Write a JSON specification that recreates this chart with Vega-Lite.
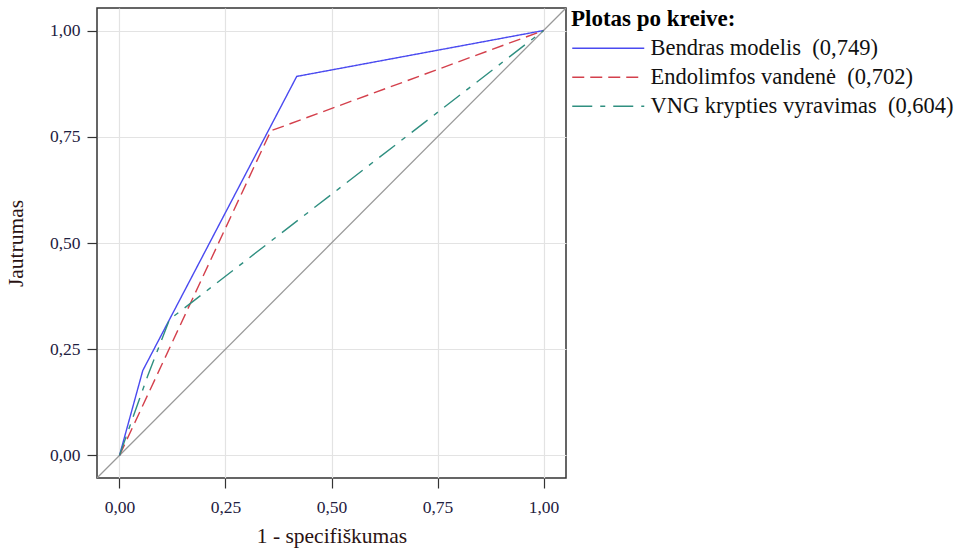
{
  "$schema": "https://vega.github.io/schema/vega-lite/v6.json",
  "width": 469,
  "height": 470,
  "autosize": {"type": "none"},
  "padding": {"left": 97, "top": 8, "right": 397, "bottom": 70},
  "config": {
    "font": "Liberation Serif",
    "view": {"stroke": "#333333", "strokeWidth": 1.5},
    "axis": {
      "grid": true,
      "gridColor": "#e3e3e3",
      "gridWidth": 1.2,
      "domain": false,
      "tickColor": "#333333",
      "tickSize": 10,
      "tickWidth": 1.2,
      "labelFontSize": 17.5,
      "labelColor": "#1e2040",
      "titleFontSize": 21.5,
      "titleFontWeight": "normal",
      "titleColor": "#2a1212"
    },
    "legend": {
      "orient": "right",
      "offset": 5,
      "titleFontSize": 23,
      "titleFontWeight": "bold",
      "titleColor": "#000000",
      "titlePadding": 6,
      "titleLimit": 0,
      "labelFontSize": 22.5,
      "labelColor": "#111111",
      "labelLimit": 0,
      "symbolType": "M-4,0H4",
      "symbolSize": 324,
      "symbolStrokeWidth": 1.4,
      "symbolOffset": 26,
      "rowPadding": 6,
      "labelOffset": 31
    }
  },
  "datasets": {
    "roc": [
      {"series": "Bendras modelis\u00a0 (0,749)", "i": 0, "x": 0, "y": 0},
      {"series": "Bendras modelis\u00a0 (0,749)", "i": 1, "x": 0.055, "y": 0.2},
      {"series": "Bendras modelis\u00a0 (0,749)", "i": 2, "x": 0.418, "y": 0.892},
      {"series": "Bendras modelis\u00a0 (0,749)", "i": 3, "x": 1, "y": 1},
      {"series": "Endolimfos vandenė\u00a0 (0,702)", "i": 0, "x": 0, "y": 0},
      {"series": "Endolimfos vandenė\u00a0 (0,702)", "i": 1, "x": 0.357, "y": 0.764},
      {"series": "Endolimfos vandenė\u00a0 (0,702)", "i": 2, "x": 1, "y": 1},
      {"series": "VNG krypties vyravimas\u00a0 (0,604)", "i": 0, "x": 0, "y": 0},
      {"series": "VNG krypties vyravimas\u00a0 (0,604)", "i": 1, "x": 0.066, "y": 0.186},
      {"series": "VNG krypties vyravimas\u00a0 (0,604)", "i": 2, "x": 0.118, "y": 0.32},
      {"series": "VNG krypties vyravimas\u00a0 (0,604)", "i": 3, "x": 1, "y": 1}
    ],
    "diag": [
      {"x": -0.1, "y": -0.1},
      {"x": 1.1, "y": 1.1}
    ]
  },
  "layer": [
    {
      "data": {"name": "diag"},
      "mark": {"type": "line", "color": "#999999", "strokeWidth": 1.3, "clip": true},
      "encoding": {
        "x": {"field": "x", "type": "quantitative", "scale": {"domain": [-0.053, 1.053], "nice": false, "zero": false},
          "axis": {"values": [0, 0.25, 0.5, 0.75, 1], "labelExpr": "replace(format(datum.value, '.2f'), '.', ',')", "title": "1 - specifiškumas", "labelPadding": 10, "titlePadding": 10}},
        "y": {"field": "y", "type": "quantitative", "scale": {"domain": [-0.053, 1.053], "nice": false, "zero": false},
          "axis": {"values": [0, 0.25, 0.5, 0.75, 1], "labelExpr": "replace(format(datum.value, '.2f'), '.', ',')", "title": "Jautrumas", "labelPadding": 7, "titlePadding": 22}}
      }
    },
    {
      "data": {"name": "roc"},
      "mark": {"type": "line", "strokeWidth": 1.4, "clip": true},
      "encoding": {
        "x": {"field": "x", "type": "quantitative"},
        "y": {"field": "y", "type": "quantitative"},
        "order": {"field": "i", "type": "quantitative"},
        "color": {
          "field": "series", "type": "nominal",
          "scale": {
            "domain": ["Bendras modelis\u00a0 (0,749)", "Endolimfos vandenė\u00a0 (0,702)", "VNG krypties vyravimas\u00a0 (0,604)"],
            "range": ["#4a4af0", "#d4404c", "#2f8f80"]
          },
          "legend": {"title": "Plotas po kreive:"}
        },
        "strokeDash": {
          "field": "series", "type": "nominal",
          "scale": {
            "domain": ["Bendras modelis\u00a0 (0,749)", "Endolimfos vandenė\u00a0 (0,702)", "VNG krypties vyravimas\u00a0 (0,604)"],
            "range": [[1, 0], [12, 6], [20, 8, 5, 8]]
          },
          "legend": {"title": "Plotas po kreive:"}
        }
      }
    }
  ]
}
